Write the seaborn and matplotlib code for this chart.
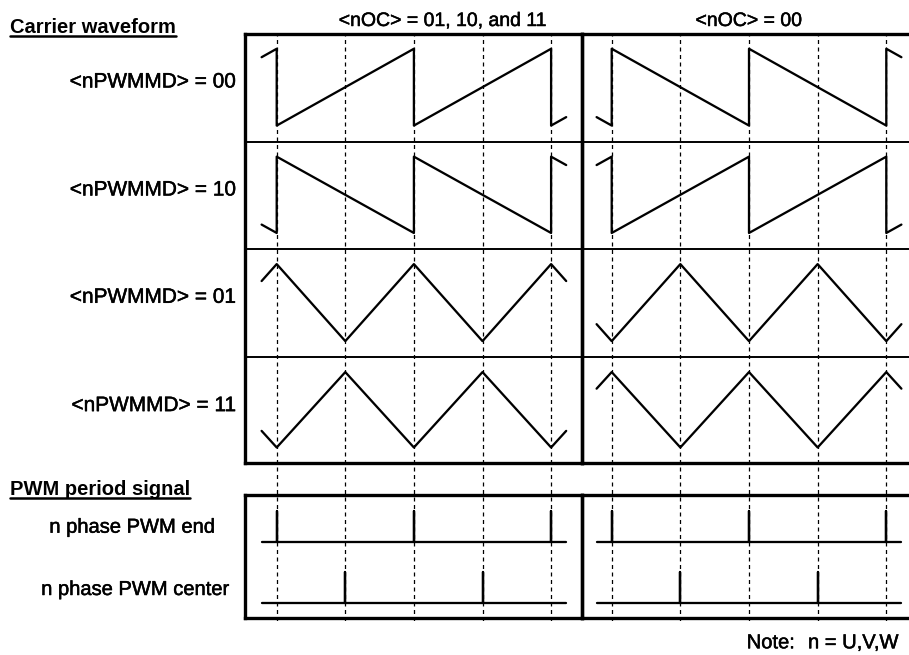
import matplotlib
matplotlib.use("Agg")
import matplotlib.pyplot as plt
import matplotlib.patheffects as pe
import seaborn as sns
from matplotlib.lines import Line2D

# ---------------- data ----------------
# time axis in units of half a carrier period; dashed reference instants
grid_t = [0, 1, 2, 3, 4]

saw_up_t = [-0.22, 0, 0, 2, 2, 4, 4, 4.22]
saw_up_v = [0.89, 1, 0, 1, 0, 1, 0, 0.11]
saw_dn_t = [-0.22, 0, 0, 2, 2, 4, 4, 4.22]
saw_dn_v = [0.11, 0, 1, 0, 1, 0, 1, 0.89]
tri_pk_t = [-0.22, 0, 1, 2, 3, 4, 4.22]
tri_pk_v = [0.78, 1, 0, 1, 0, 1, 0.78]
tri_vl_t = [-0.22, 0, 1, 2, 3, 4, 4.22]
tri_vl_v = [0.22, 0, 1, 0, 1, 0, 0.22]

pwm_end_t = [-0.22, 0, 0, 0, 2, 2, 2, 4, 4, 4, 4.22]
pwm_end_v = [0, 0, 1, 0, 0, 1, 0, 0, 1, 0, 0]
pwm_ctr_t = [-0.22, 1, 1, 1, 3, 3, 3, 4.22]
pwm_ctr_v = [0, 0, 1, 0, 0, 1, 0, 0]

row_labels = ["<nPWMMD> = 00", "<nPWMMD> = 10", "<nPWMMD> = 01", "<nPWMMD> = 11"]
col_titles = ["<nOC> = 01, 10, and 11", "<nOC> = 00"]
pwm_labels = ["n phase PWM end", "n phase PWM center"]
section_titles = ["Carrier waveform", "PWM period signal"]
note_key = "Note:"
note_val = "n = U,V,W"

carrier_left = [(saw_up_t, saw_up_v), (saw_dn_t, saw_dn_v),
                (tri_pk_t, tri_pk_v), (tri_vl_t, tri_vl_v)]
carrier_right = [(saw_dn_t, saw_dn_v), (saw_up_t, saw_up_v),
                 (tri_vl_t, tri_vl_v), (tri_pk_t, tri_pk_v)]
pwm_rows = [(pwm_end_t, pwm_end_v), (pwm_ctr_t, pwm_ctr_v)]

# ---------------- style ----------------
sns.set_theme(style="white")
plt.rcParams["font.family"] = ["Liberation Sans", "DejaVu Sans"]

W, H = 909, 655
fig = plt.figure(figsize=(W / 100, H / 100), dpi=100)
fig.patch.set_facecolor("white")


def px_rect(x0, y0, x1, y1):
    return [x0 / W, 1 - y1 / H, (x1 - x0) / W, (y1 - y0) / H]


def fy(y):
    return 1 - y / H


cols = [
    dict(x0=245, x1=582.3, d0=276.7, sp=68.6, waves=carrier_left),
    dict(x0=582.3, x1=915, d0=611.7, sp=68.65, waves=carrier_right),
]
row_bounds = [33.7, 141.7, 249.0, 357.3, 463.3]
pwm_top, pwm_mid, pwm_bot = 495.0, 556.5, 618.0

LW_WAVE = 1.65
LW_THIN = 1.2
LW_BOLD = 2.4


def clean(ax):
    ax.set_xticks([])
    ax.set_yticks([])
    ax.set_facecolor("none")
    ax.grid(False)


for ci, c in enumerate(cols):
    xl = (c["x0"] - c["d0"]) / c["sp"]
    xr = (c["x1"] - c["d0"]) / c["sp"]
    # carrier rows
    for r in range(4):
        ax = fig.add_axes(px_rect(c["x0"], row_bounds[r], c["x1"], row_bounds[r + 1]))
        clean(ax)
        t, v = c["waves"][r]
        sns.lineplot(x=t, y=v, ax=ax, color="black", lw=LW_WAVE,
                     estimator=None, sort=False, legend=False)
        ax.set_xlim(xl, xr)
        ax.set_ylim(-0.21, 1.196)
        for s in ["left", "right"]:
            ax.spines[s].set_visible(False)
        for s in ["top", "bottom"]:
            ax.spines[s].set_linewidth(LW_THIN)
            ax.spines[s].set_color("black")
        ax.set_xlabel("")
        ax.set_ylabel("")
    # pwm rows
    for r, (y0, y1) in enumerate([(pwm_top, pwm_mid), (pwm_mid, pwm_bot)]):
        ax = fig.add_axes(px_rect(c["x0"], y0, c["x1"], y1))
        clean(ax)
        t, v = pwm_rows[r]
        sns.lineplot(x=t, y=v, ax=ax, color="black", lw=LW_WAVE,
                     estimator=None, sort=False, legend=False)
        ax.set_xlim(xl, xr)
        ax.set_ylim(-0.48, 1.51)
        for s in ax.spines.values():
            s.set_visible(False)
        ax.set_xlabel("")
        ax.set_ylabel("")
    # dashed reference lines across both boxes
    axd = fig.add_axes(px_rect(c["x0"], row_bounds[0], c["x1"], 621))
    clean(axd)
    axd.set_xlim(xl, xr)
    axd.set_ylim(0, 1)
    for s in axd.spines.values():
        s.set_visible(False)
    for g in grid_t:
        axd.axvline(g, color="black", lw=0.9, ls=(0, (3.2, 2.8)))
    # bold frames
    for (y0, y1) in [(row_bounds[0], row_bounds[-1]), (pwm_top, pwm_bot)]:
        axb = fig.add_axes(px_rect(c["x0"], y0, c["x1"], y1))
        clean(axb)
        for s in axb.spines.values():
            s.set_linewidth(LW_BOLD)
            s.set_color("black")
        if ci == 1:
            axb.spines["right"].set_visible(False)

# ---------------- text ----------------
heavy = [pe.withStroke(linewidth=0.35, foreground="black")]
txt_kw = dict(color="black", path_effects=heavy)
fig.text(443 / W, fy(26), col_titles[0], ha="center", va="baseline", fontsize=14, **txt_kw)
fig.text(749 / W, fy(26), col_titles[1], ha="center", va="baseline", fontsize=14, **txt_kw)

for r, lab in enumerate(row_labels):
    fig.text(236.7 / W, fy(row_bounds[r] + 53.8), lab, ha="right", va="baseline",
             fontsize=15, **txt_kw)

fig.text(132.2 / W, fy(532.7), pwm_labels[0], ha="center", va="baseline", fontsize=14.5, **txt_kw)
fig.text(135.3 / W, fy(595.0), pwm_labels[1], ha="center", va="baseline", fontsize=14.5, **txt_kw)

fig.text(746.7 / W, fy(648.3), note_key, ha="left", va="baseline", fontsize=14.5, **txt_kw)
fig.text(808 / W, fy(648.3), note_val, ha="left", va="baseline", fontsize=14.5, **txt_kw)

sec = []
for lab, base in zip(section_titles, [33.3, 495.0]):
    t = fig.text(10 / W, fy(base), lab, ha="left", va="baseline", fontsize=14.5,
                 fontweight="bold", color="black")
    sec.append((t, base))

fig.canvas.draw()
renderer = fig.canvas.get_renderer()
for t, base in sec:
    bb = t.get_window_extent(renderer)
    yline = fy(base + 2.6)
    fig.add_artist(Line2D([bb.x0 / W, bb.x1 / W], [yline, yline],
                          transform=fig.transFigure, color="black", lw=1.8))

fig.savefig("out.png", dpi=100, facecolor="white")
